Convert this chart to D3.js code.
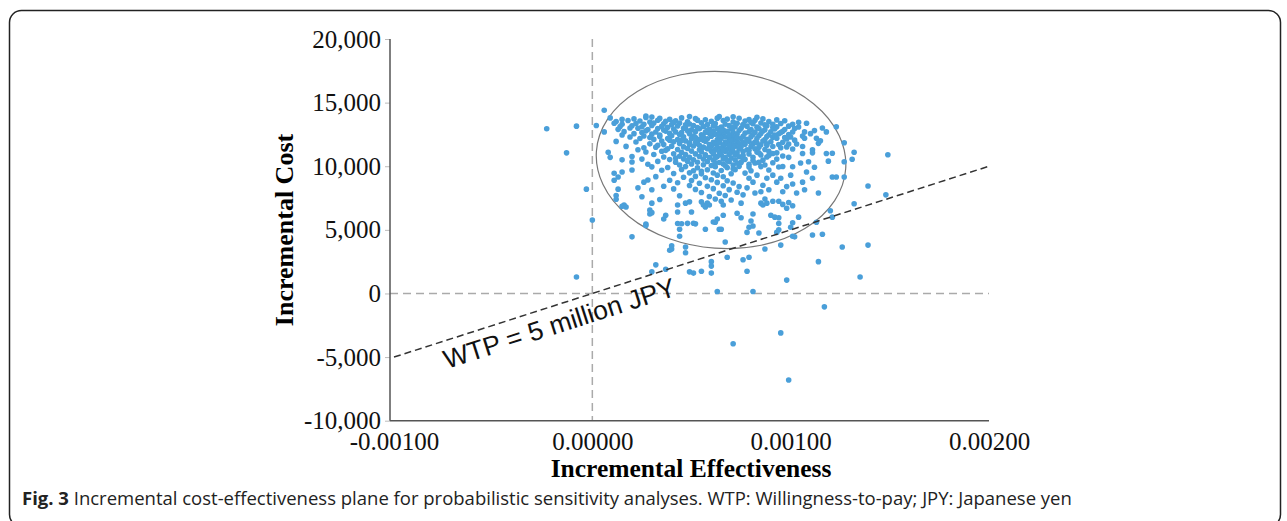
<!DOCTYPE html>
<html>
<head>
<meta charset="utf-8">
<title>Incremental cost-effectiveness plane</title>
<style>
  body { margin: 0; background: #fff; }
  svg { display: block; }
</style>
</head>
<body>
<script src="https://d3js.org/d3.v7.min.js"></script>
<script>
// tick values and labels
var xTicks = [-0.001, 0, 0.001, 0.002];
var xTickLabels = ["-0.00100", "0.00000", "0.00100", "0.00200"];
var yTicks = [-10000, -5000, 0, 5000, 10000, 15000, 20000];
var yTickLabels = ["-10,000", "-5,000", "0", "5,000", "10,000", "15,000", "20,000"];

// willingness-to-pay threshold: 5 million JPY per unit effectiveness
var wtp = 5000000;

// [incremental effectiveness, incremental cost]
// points to the left of / far from the main cloud
var outlierPoints = [
  [-0.00023,12950],[-0.00008,13150],[-0.00013,11050],[-0.00003,8200],[0.00000,5770],[-0.00008,1300],
  [0.00006,14400],[0.00002,13200],[0.00006,12700],[0.00020,4450],[0.00008,11100],[0.00013,8200],
  [0.00012,7400],[0.00017,6800],[0.00011,9450],[0.00013,9150],[0.00149,10900],[0.00139,8450],[0.00148,7750]
];

// points below about 5,000 JPY
var lowerPoints = [
  [0.00032,2250],[0.00030,1700],[0.00037,1900],[0.00040,3500],[0.00040,3750],[0.00047,3200],[0.00047,3650],
  [0.00049,1700],[0.00051,1600],[0.00055,1750],[0.00060,2500],[0.00060,2150],[0.00060,1600],[0.00063,150],
  [0.00067,4050],[0.00068,2850],[0.00071,-3950],[0.00076,2650],[0.00078,1750],[0.00079,2850],[0.00081,150],
  [0.00087,3500],[0.00095,-3100],[0.00095,3800],[0.00098,1050],[0.00099,-6800],[0.00102,4450],[0.00111,4600],
  [0.00114,2500],[0.00116,4650],[0.00117,-1050],[0.00126,3650],[0.00135,1300],[0.00139,3800],[0.00039,3400],
  [0.00044,4500],[0.00084,4750],[0.00093,4800],[0.00101,4500],[0.00078,4800]
];

// points between about 5,000 and 7,300 JPY
var midPoints = [
  [0.00027,5450],[0.00043,5500],[0.00045,5480],[0.00048,5510],[0.00051,5520],[0.00052,5470],[0.00044,5050],
  [0.00057,5050],[0.00061,5620],[0.00065,5050],[0.00079,5200],[0.00081,5300],[0.00094,5000],[0.00094,5500],
  [0.00100,5200],[0.00101,5550],[0.00113,5600],[0.00075,5950],[0.00080,5700],[0.00081,6250],[0.00090,6150],
  [0.00092,6000],[0.00094,5950],[0.00104,6000],[0.00120,6500],[0.00121,6000],[0.00132,7050],[0.00075,7100],
  [0.00027,5350],[0.00037,6150],[0.00036,5850],[0.00029,6250],[0.00029,6550],[0.00030,6350],[0.00016,6950],
  [0.00043,6400],[0.00043,6950],[0.00050,6400],[0.00055,7200],[0.00062,5600],[0.00064,5050],[0.00066,6150],
  [0.00063,5850],[0.00066,6950],[0.00073,6300],[0.00056,6950],[0.00058,7100],[0.00057,6800],[0.00059,6950],
  [0.00015,6850],[0.00030,7100],[0.00049,7200],[0.00047,7100],[0.00065,7250],[0.00085,7100],[0.00086,6950],
  [0.00088,7100],[0.00091,7250],[0.00094,7250],[0.00096,7000],[0.00099,7150],[0.00101,6900],[0.00098,6700]
];

// the dense cloud, 7,300 to 13,900 JPY
var cloudPoints = [
  [0.00009,13800],[0.00021,13720],[0.00027,13830],[0.00034,13760],[0.00039,13690],[0.00045,13800],[0.00052,13740],
  [0.00057,13650],[0.00063,13780],[0.00068,13700],[0.00074,13770],[0.00079,13660],[0.00086,13720],[0.00093,13640],
  [0.00030,13860],[0.00015,13680],
  [0.00012,13520],[0.00018,13600],[0.00024,13560],[0.00029,13480],[0.00033,13610],[0.00037,13530],[0.00042,13580],
  [0.00048,13500],[0.00053,13620],[0.00060,13540],[0.00066,13590],[0.00071,13480],[0.00077,13560],[0.00082,13610],
  [0.00089,13520],[0.00097,13570],[0.00104,13460],
  [0.00011,13380],[0.00015,13300],[0.00022,13360],[0.00026,13290],[0.00031,13400],[0.00036,13330],[0.00040,13270],
  [0.00044,13390],[0.00049,13320],[0.00055,13410],[0.00058,13280],[0.00062,13350],[0.00067,13300],[0.00073,13380],
  [0.00076,13260],[0.00081,13340],[0.00085,13400],[0.00091,13300],[0.00095,13360],[0.00101,13290],[0.00108,13380],
  [0.00014,13120],[0.00020,13180],[0.00025,13100],[0.00030,13200],[0.00035,13130],[0.00038,13060],[0.00043,13170],
  [0.00047,13090],[0.00051,13200],[0.00056,13120],[0.00061,13160],[0.00065,13080],[0.00069,13190],[0.00072,13110],
  [0.00078,13150],[0.00083,13070],[0.00088,13180],[0.00093,13100],[0.00099,13150],[0.00104,13080],[0.00116,13000],
  [0.00123,13100],
  [0.00013,12900],[0.00023,12980],[0.00028,12880],[0.00033,12960],[0.00041,12920],[0.00046,12990],[0.00050,12870],
  [0.00054,12950],[0.00059,12900],[0.00063,12980],[0.00066,12860],[0.00070,12930],[0.00075,12990],[0.00080,12890],
  [0.00084,12960],[0.00087,12870],[0.00092,12940],[0.00097,12880],[0.00102,12960],[0.00112,12800],
  [0.00016,12720],[0.00027,12780],[0.00032,12690],[0.00037,12760],[0.00042,12700],[0.00048,12790],[0.00052,12720],
  [0.00057,12680],[0.00061,12770],[0.00064,12700],[0.00068,12750],[0.00071,12660],[0.00074,12800],[0.00079,12720],
  [0.00082,12680],[0.00086,12770],[0.00090,12710],[0.00096,12750],[0.00101,12690],[0.00107,12700],[0.00118,12700],
  [0.00015,12450],[0.00021,12560],[0.00030,12520],[0.00039,12580],[0.00044,12500],[0.00049,12560],[0.00055,12480],
  [0.00059,12590],[0.00062,12510],[0.00066,12560],[0.00069,12470],[0.00073,12540],[0.00077,12600],[0.00081,12500],
  [0.00085,12570],[0.00089,12480],[0.00094,12550],[0.00099,12500],[0.00110,12560],
  [0.00019,12300],[0.00026,12380],[0.00034,12330],[0.00040,12390],[0.00046,12310],[0.00051,12370],[0.00056,12290],
  [0.00060,12360],[0.00064,12400],[0.00067,12320],[0.00070,12380],[0.00072,12280],[0.00076,12350],[0.00080,12310],
  [0.00084,12390],[0.00088,12330],[0.00091,12270],[0.00100,12300],[0.00106,12380],
  [0.00024,12180],[0.00031,12110],[0.00038,12170],[0.00043,12100],[0.00050,12190],[0.00054,12120],[0.00058,12160],
  [0.00063,12090],[0.00065,12200],[0.00069,12130],[0.00071,12060],[0.00075,12170],[0.00078,12110],[0.00083,12180],
  [0.00087,12100],[0.00093,12200],[0.00098,12150],[0.00107,12200],[0.00113,12200],
  [0.00012,11950],[0.00022,11900],[0.00035,11980],[0.00041,11920],[0.00047,11990],[0.00052,11900],[0.00057,11960],
  [0.00061,11880],[0.00064,11970],[0.00067,11910],[0.00070,11990],[0.00073,11930],[0.00076,11870],[0.00079,11960],
  [0.00082,11900],[0.00086,11980],[0.00090,11920],[0.00096,11880],[0.00103,11750],[0.00115,12000],
  [0.00029,11760],[0.00036,11700],[0.00044,11780],[0.00049,11720],[0.00053,11790],[0.00059,11700],[0.00062,11770],
  [0.00066,11680],[0.00068,11760],[0.00071,11710],[0.00074,11790],[0.00077,11720],[0.00081,11770],[0.00085,11690],
  [0.00088,11760],[0.00094,11700],[0.00114,11800],[0.00127,11850],
  [0.00017,11560],[0.00032,11500],[0.00040,11580],[0.00046,11520],[0.00051,11590],[0.00056,11500],[0.00060,11570],
  [0.00063,11480],[0.00066,11560],[0.00069,11510],[0.00072,11590],[0.00075,11530],[0.00080,11560],[0.00084,11490],
  [0.00091,11550],[0.00098,11520],[0.00095,11450],
  [0.00023,11300],[0.00038,11380],[0.00043,11320],[0.00048,11390],[0.00054,11300],[0.00058,11370],[0.00062,11310],
  [0.00065,11390],[0.00068,11330],[0.00070,11270],[0.00074,11360],[0.00078,11300],[0.00082,11380],[0.00087,11320],
  [0.00101,11350],[0.00111,11300],
  [0.00027,11120],[0.00035,11180],[0.00045,11100],[0.00050,11190],[0.00055,11130],[0.00060,11170],[0.00064,11090],
  [0.00067,11180],[0.00071,11120],[0.00073,11060],[0.00076,11160],[0.00083,11110],[0.00089,11180],[0.00093,11050],
  [0.00118,11000],[0.00121,11020],[0.00132,11100],
  [0.00031,10920],[0.00041,10980],[0.00047,10910],[0.00052,10970],[0.00057,10900],[0.00061,10960],[0.00065,10880],
  [0.00069,10950],[0.00072,10900],[0.00079,10960],[0.00085,10890],[0.00091,11000],[0.00096,10800],[0.00106,11000],
  [0.00111,11050],
  [0.00009,10700],[0.00020,10760],[0.00036,10720],[0.00044,10780],[0.00049,10700],[0.00054,10760],[0.00059,10690],
  [0.00063,10770],[0.00067,10710],[0.00070,10650],[0.00074,10740],[0.00081,10700],[0.00088,10720],[0.00099,10700],
  [0.00015,10500],[0.00025,10560],[0.00039,10520],[0.00046,10580],[0.00051,10500],[0.00056,10560],[0.00061,10490],
  [0.00066,10570],[0.00072,10510],[0.00077,10540],[0.00086,10480],[0.00093,10560],[0.00131,10550],
  [0.00020,10330],[0.00033,10380],[0.00042,10320],[0.00048,10390],[0.00053,10310],[0.00058,10370],[0.00064,10290],
  [0.00069,10360],[0.00075,10300],[0.00082,10250],[0.00091,10270],[0.00109,10350],[0.00127,10350],[0.00119,10400],
  [0.00028,10150],[0.00044,10100],[0.00050,10180],[0.00056,10120],[0.00060,10060],[0.00066,10170],[0.00071,10090],
  [0.00079,10160],[0.00087,10100],[0.00105,10250],
  [0.00030,9950],[0.00038,9900],[0.00047,9970],[0.00053,9880],[0.00062,9960],[0.00068,9890],[0.00074,9990],
  [0.00079,9930],[0.00085,9970],[0.00094,9940],[0.00101,9960],[0.00112,9920],[0.00096,9980],
  [0.00015,9550],[0.00020,9700],[0.00035,9680],[0.00045,9740],[0.00051,9650],[0.00058,9720],[0.00065,9660],
  [0.00072,9730],[0.00089,9700],[0.00108,9550],
  [0.00041,9430],[0.00049,9480],[0.00055,9400],[0.00061,9470],[0.00070,9410],[0.00077,9460],[0.00083,9300],
  [0.00091,9300],[0.00100,9300],
  [0.00032,9180],[0.00046,9130],[0.00052,9200],[0.00057,9100],[0.00066,9170],[0.00079,9050],[0.00088,9050],
  [0.00095,9050],[0.00111,9050],[0.00121,9150],[0.00123,9150],[0.00127,9150],
  [0.00011,8900],[0.00028,8920],[0.00039,8900],[0.00050,8880],[0.00060,8940],[0.00068,8860],
  [0.00026,8750],[0.00043,8700],[0.00054,8660],[0.00063,8730],[0.00071,8680],[0.00081,8750],[0.00093,8750],
  [0.00101,8600],[0.00106,8750],
  [0.00036,8430],[0.00049,8480],[0.00058,8420],[0.00066,8470],[0.00074,8400],[0.00086,8500],[0.00098,8400],
  [0.00023,8300],[0.00030,8150],[0.00041,8220],[0.00052,8180],[0.00061,8240],[0.00069,8160],[0.00078,8300],
  [0.00085,8000],[0.00089,8150],[0.00107,8150],
  [0.00055,7940],[0.00064,7880],[0.00073,7960],[0.00082,7900],[0.00096,8000],[0.00103,7900],[0.00114,7900],
  [0.00025,7600],[0.00044,7680],[0.00059,7620],[0.00067,7700],[0.00076,7750],[0.00012,7700],
  [0.00034,7380],[0.00062,7430],[0.00070,7350],[0.00087,7420]
];

// extra points filling the core of the cloud
var corePoints = [
  [0.00047,13250],[0.00053,13050],[0.00058,12850],[0.00064,12650],[0.00069,12450],[0.00073,12250],[0.00078,12050],
  [0.00083,11850],[0.00088,11650],[0.00071,11450],[0.00066,11250],[0.00061,11050],[0.00057,10850],[0.00062,10650],
  [0.00068,10450],[0.00073,10250],[0.00045,12050],[0.00049,11850],[0.00054,11650],[0.00059,11450],[0.00064,11850],
  [0.00069,11650],[0.00074,11450],[0.00079,11250],[0.00084,11050],[0.00089,10850],[0.00076,10850],[0.00081,10450],
  [0.00052,12250],[0.00056,12050],[0.00060,12650],[0.00065,12850],[0.00071,13050],[0.00076,13250],[0.00080,13450],
  [0.00087,13250],[0.00091,13050],[0.00095,12650],[0.00092,12450],[0.00097,12250],[0.00102,12050],[0.00099,11750],
  [0.00106,11550],[0.00036,12850],[0.00034,12450],[0.00029,12250],[0.00025,12650],[0.00019,13000],[0.00041,13450],
  [0.00045,12650],[0.00039,12050],[0.00037,11250],[0.00033,11650],[0.00026,11450],[0.00042,10650],[0.00048,10450],
  [0.00062,10250],[0.00067,10050],[0.00071,9800],[0.00076,10500],[0.00084,10300],[0.00080,9650],[0.00055,9600],
  [0.00063,9300],[0.00027,13950],[0.00064,13900],[0.00083,13850],[0.00049,13900],[0.00071,13880]
];

// the ellipse drawn round the cloud (centre, half-axes, tilt in degrees)
var ellipseCentre = [0.000649, 10490];
var ellipseHalfX = 0.00063;
var ellipseHalfY = 6950;
var ellipseTilt = 4;

var W = 1287, H = 521;

var svg = d3.select("body")
    .append("svg")
    .attr("width", W)
    .attr("height", H);

// frame round the figure
svg.append("rect")
    .attr("x", 9.5).attr("y", 10.5)
    .attr("width", 1271).attr("height", 516)
    .attr("rx", 12).attr("ry", 12)
    .attr("fill", "none")
    .attr("stroke", "#222")
    .attr("stroke-width", 1.5);

var x = d3.scaleLinear().domain([-0.001, 0.002]).range([394, 989]);
var y = d3.scaleLinear().domain([-10000, 20000]).range([420.7, 39]);
var axisLeftX = 390;
var serif = "'Liberation Serif', 'Times New Roman', serif";

// dashed zero lines
svg.append("line")
    .attr("x1", x(0)).attr("x2", x(0))
    .attr("y1", y(20000)).attr("y2", y(-10000))
    .attr("stroke", "#aaa").attr("stroke-width", 1.5)
    .attr("stroke-dasharray", "8,5");
svg.append("line")
    .attr("x1", axisLeftX).attr("x2", x(0.002))
    .attr("y1", y(0)).attr("y2", y(0))
    .attr("stroke", "#aaa").attr("stroke-width", 1.5)
    .attr("stroke-dasharray", "8,5");

// axes
var yAxis = d3.axisLeft(y)
    .tickValues(yTicks)
    .tickSize(5)
    .tickPadding(4)
    .tickFormat(function(d, i) { return yTickLabels[i]; });

var gy = svg.append("g")
    .attr("transform", "translate(" + axisLeftX + ",0)")
    .call(yAxis);

var xAxis = d3.axisBottom(x)
    .tickValues(xTicks)
    .tickSize(3)
    .tickPadding(9)
    .tickFormat(function(d, i) { return xTickLabels[i]; });

var gx = svg.append("g")
    .attr("transform", "translate(0," + y(-10000) + ")")
    .call(xAxis);

[gx, gy].forEach(function(g) {
    g.select(".domain").remove();
    g.selectAll(".tick line").attr("stroke", "#bbb");
    g.selectAll(".tick text")
        .attr("fill", "#111")
        .style("font-family", serif)
        .style("font-size", "25px");
});
gx.selectAll(".tick line").remove();

svg.append("line")
    .attr("x1", axisLeftX).attr("x2", axisLeftX)
    .attr("y1", y(20000)).attr("y2", y(-10000))
    .attr("stroke", "#555").attr("stroke-width", 1.5);
svg.append("line")
    .attr("x1", axisLeftX).attr("x2", x(0.002))
    .attr("y1", y(-10000)).attr("y2", y(-10000))
    .attr("stroke", "#555").attr("stroke-width", 1.5);

// axis titles
svg.append("text")
    .attr("x", 691).attr("y", 477)
    .attr("text-anchor", "middle")
    .style("font-family", serif)
    .style("font-weight", "bold")
    .style("font-size", "25.5px")
    .text("Incremental Effectiveness");

svg.append("text")
    .attr("transform", "translate(293,230) rotate(-90)")
    .attr("text-anchor", "middle")
    .style("font-family", serif)
    .style("font-weight", "bold")
    .style("font-size", "26px")
    .text("Incremental Cost");

// ellipse
var ecx = x(ellipseCentre[0]), ecy = y(ellipseCentre[1]);
svg.append("ellipse")
    .attr("cx", ecx).attr("cy", ecy)
    .attr("rx", x(ellipseHalfX) - x(0))
    .attr("ry", y(0) - y(ellipseHalfY))
    .attr("transform", "rotate(" + ellipseTilt + "," + ecx + "," + ecy + ")")
    .attr("fill", "none")
    .attr("stroke", "#777")
    .attr("stroke-width", 1.2);

// points
var allPoints = cloudPoints.concat(corePoints, midPoints, lowerPoints, outlierPoints);
svg.append("g")
    .selectAll("circle")
    .data(allPoints)
    .enter()
    .append("circle")
    .attr("cx", function(d) { return x(d[0]); })
    .attr("cy", function(d) { return y(d[1]); })
    .attr("r", 2.8)
    .attr("fill", "#4a9fd9");

// WTP threshold line
var wx0 = -0.001, wx1 = 0.002;
svg.append("line")
    .attr("x1", x(wx0)).attr("y1", y(wtp * wx0))
    .attr("x2", x(wx1)).attr("y2", y(wtp * wx1))
    .attr("stroke", "#333")
    .attr("stroke-width", 1.5)
    .attr("stroke-dasharray", "7,4");

var angle = Math.atan2(y(wtp * wx1) - y(wtp * wx0), x(wx1) - x(wx0)) * 180 / Math.PI;
svg.append("text")
    .attr("transform", "translate(447,369) rotate(" + angle + ")")
    .style("font-family", "'Liberation Sans', Arial, sans-serif")
    .style("font-size", "26.5px")
    .attr("fill", "#111")
    .text("WTP = 5 million JPY");

// caption
var cap = svg.append("text")
    .attr("x", 22).attr("y", 505)
    .style("font-family", "'Open Sans', 'Noto Sans', sans-serif")
    .style("font-size", "18.5px")
    .attr("fill", "#222");
cap.append("tspan").style("font-weight", "bold").text("Fig. 3");
cap.append("tspan").text(" Incremental cost-effectiveness plane for probabilistic sensitivity analyses. WTP: Willingness-to-pay; JPY: Japanese yen");
</script>
</body>
</html>
